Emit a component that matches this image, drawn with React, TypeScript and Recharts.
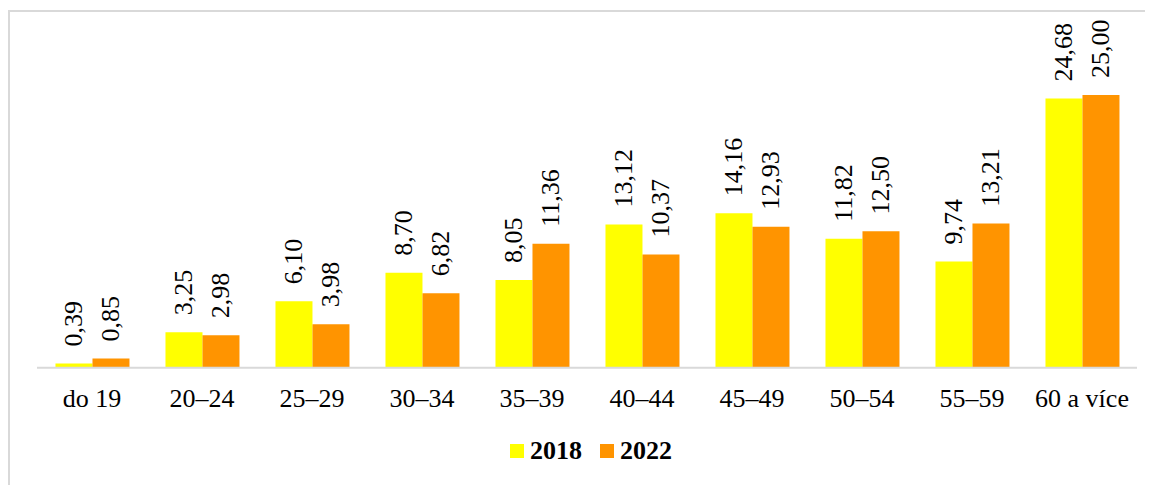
import React from 'react';
import { BarChart, Bar, XAxis, YAxis, Legend, LabelList } from 'recharts';

const categories = ['do 19', '20–24', '25–29', '30–34', '35–39', '40–44', '45–49', '50–54', '55–59', '60 a více'];
const values2018 = [0.39, 3.25, 6.1, 8.7, 8.05, 13.12, 14.16, 11.82, 9.74, 24.68];
const values2022 = [0.85, 2.98, 3.98, 6.82, 11.36, 10.37, 12.93, 12.5, 13.21, 25.0];
const seriesNames = ['2018', '2022'];
const colors = ['#FFFF00', '#FF9400'];

const data = categories.map((c, i) => ({ cat: c, s2018: values2018[i], s2022: values2022[i] }));

const FONT = "'Liberation Serif', 'Times New Roman', serif";

const fmt = (v: number) => v.toFixed(2).replace('.', ',');

const VLabel = (props: any) => {
  const { x, y, width, value } = props;
  const cx = Number(x) + Number(width) / 2;
  const cy = Number(y) - 17;
  return (
    <text
      x={cx}
      y={cy}
      transform={`rotate(-90, ${cx}, ${cy})`}
      textAnchor="start"
      dominantBaseline="central"
      fontFamily={FONT}
      style={{ fontFamily: FONT, fontSize: 26, fill: '#000' }}
    >
      {fmt(Number(value))}
    </text>
  );
};

const XTick = (props: any) => {
  const { x, y, payload } = props;
  return (
    <text
      x={x}
      y={Number(y) + 39}
      textAnchor="middle"
      style={{ fontFamily: FONT, fontSize: 26, fill: '#000' }}
    >
      {payload.value}
    </text>
  );
};

const LegendContent = () => (
  <div style={{ display: 'flex', alignItems: 'center', fontFamily: FONT, fontSize: 26, fontWeight: 'bold', color: '#000' }}>
    {seriesNames.map((n, i) => (
      <div key={n} style={{ display: 'flex', alignItems: 'center', marginRight: i === 0 ? 18 : 0 }}>
        <div style={{ width: 14, height: 14, background: colors[i], marginRight: 6 }} />
        <span>{n}</span>
      </div>
    ))}
  </div>
);

export default function App() {
  return (
    <div style={{ paddingTop: 2 }}>
      <div style={{ borderTop: '2px solid #d9d9d9', borderLeft: '2px solid #d9d9d9', width: 1143, height: 473, background: '#fff', fontFamily: FONT }}>
        <BarChart
          width={1143}
          height={473}
          data={data}
          margin={{ top: 28.5, right: 16, left: 27, bottom: 87.3 }}
          barCategoryGap="16.8%"
          barGap={0}
          style={{ fontFamily: FONT }}
        >
          <XAxis
            dataKey="cat"
            height={30}
            axisLine={{ stroke: '#d9d9d9', strokeWidth: 2 }}
            tickLine={false}
            tickSize={0}
            tickMargin={0}
            interval={0}
            tick={<XTick />}
          />
          <YAxis hide domain={[0, 30]} />
          <Legend
            verticalAlign="middle"
            align="center"
            layout="horizontal"
            wrapperStyle={{ top: 424, left: 500, width: 'auto' }}
            content={<LegendContent />}
          />
          <Bar dataKey="s2018" name="2018" fill={colors[0]} isAnimationActive={false}>
            <LabelList dataKey="s2018" content={<VLabel />} />
          </Bar>
          <Bar dataKey="s2022" name="2022" fill={colors[1]} isAnimationActive={false}>
            <LabelList dataKey="s2022" content={<VLabel />} />
          </Bar>
        </BarChart>
      </div>
    </div>
  );
}
